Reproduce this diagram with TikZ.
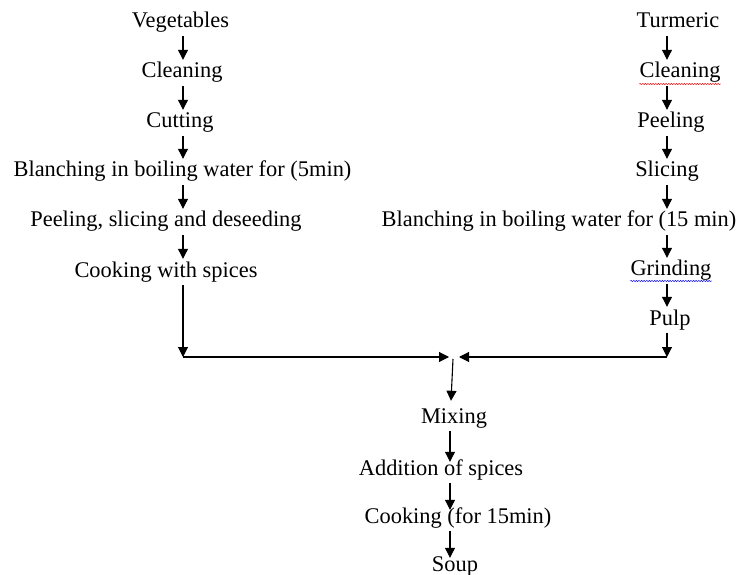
\documentclass[tikz,border=0pt]{standalone}
\usepackage{fontspec}
\setmainfont{Liberation Serif}
\usetikzlibrary{
  arrows.meta,
  decorations.pathmorphing, % Wavy marks under two words
}
\tikzset{
  stage/.style={
    anchor=base,
    font=\fontsize{22.4}{26}\selectfont,
    inner xsep=0pt,
    inner ysep=3pt,
    text height=15pt,
    text depth=5pt
  },
  flow/.style={
    -{Triangle[length=10pt,width=10pt]},
    line width=1.1pt
  },
  longer/.style={
    shorten >=-5pt
  },
  wavy/.style={
    decorate,
    decoration={snake,amplitude=0.6pt,segment length=2.6pt},
    line width=0.5pt
  }
}

\begin{document}
\begin{tikzpicture}[x=1pt,y=-1pt]
\useasboundingbox (0,0) rectangle (740,575);
% columns and joins
\coordinate (colL)    at (183,0);
\coordinate (colR)    at (667,0);
\coordinate (colM)    at (450,0);
\coordinate (cornerL) at (183,357);
\coordinate (cornerR) at (667,357);
\coordinate (joinL)   at (449,357);
\coordinate (joinR)   at (459,357);
\coordinate (joinT)   at (453,359);
% vegetables
\node[stage] (veg)     at (180.5,28) {Vegetables};
\node[stage] (cleanL)  at (182,78)   {Cleaning};
\node[stage] (cut)     at (180,128)  {Cutting};
\node[stage] (blanchL) at (182.5,177){Blanching in boiling water for (5min)};
\node[stage] (peelL)   at (166,227)  {Peeling, slicing and deseeding};
\node[stage] (cookL)   at (166,277)  {Cooking with spices};
% turmeric
\node[stage] (turm)    at (678,28)   {Turmeric};
\node[stage] (cleanR)  at (680,78)   {Cleaning};
\node[stage] (peelR)   at (671,128)  {Peeling};
\node[stage] (slice)   at (667,177)  {Slicing};
\node[stage] (blanchR) at (559,227)  {Blanching in boiling water for (15 min)};
\node[stage] (grind)   at (671,276)  {Grinding};
\node[stage] (pulp)    at (670,325)  {Pulp};
% soup
\node[stage] (mix)     at (454,423)  {Mixing};
\node[stage] (add)     at (441,475)  {Addition of spices};
\node[stage] (cookM)   at (458,523)  {Cooking (for 15min)};
\node[stage] (soup)    at (455,571)  {Soup};
\draw[wavy,red]  ([yshift=-6pt]cleanR.base west) -- ([yshift=-6pt]cleanR.base east);
\draw[wavy,blue] ([yshift=-5pt]grind.base west)  -- ([yshift=-5pt]grind.base east);
\path[flow] (veg.south -| colL)     edge (cleanL.north -| colL)
            (cleanL.south -| colL)  edge (cut.north -| colL)
            (cut.south -| colL)     edge (blanchL.north -| colL)
            (blanchL.south -| colL) edge (peelL.north -| colL)
            (peelL.south -| colL)   edge (cookL.north -| colL)
            (cookL.south -| colL)   edge (cornerL)
            (cornerL)               edge (joinL)
            (turm.south -| colR)    edge (cleanR.north -| colR)
            (cleanR.south -| colR)  edge (peelR.north -| colR)
            (peelR.south -| colR)   edge (slice.north -| colR)
            (slice.south -| colR)   edge (blanchR.north -| colR)
            (blanchR.south -| colR) edge (grind.north -| colR)
            (grind.south -| colR)   edge (pulp.north -| colR)
            (pulp.south -| colR)    edge (cornerR)
            (cornerR)               edge (joinR)
            (joinT)                 edge ([xshift=-3pt,yshift=4pt]mix.north);
\path[flow,longer] (mix.south -| colM)   edge (add.north -| colM)
                   (add.south -| colM)   edge (cookM.north -| colM)
                   (cookM.south -| colM) edge (soup.north -| colM);
\end{tikzpicture}
\end{document}
